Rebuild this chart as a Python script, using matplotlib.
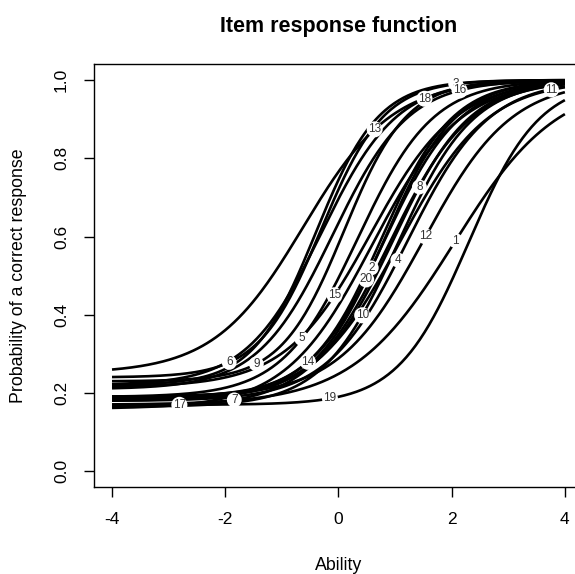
import numpy as np
import matplotlib
matplotlib.use("Agg")
import matplotlib.pyplot as plt

plt.rcParams['font.family'] = ['Liberation Sans', 'DejaVu Sans']

# 3PL item parameters (discrimination, difficulty, guessing)
items = list(range(1, 21))
disc = [1.1, 1.5, 1.8, 1.4, 1.5, 1.8, 1.4, 1.5, 1.8, 1.5,
        1.3, 1.3, 1.27, 1.6, 1.33, 1.5, 1.3, 1.5, 1.6, 1.6]
diff = [2.05, 0.82, -0.4, 1.225, 0.34, -0.3, 0.9, 0.98, 0.1, 1.05,
        1.1, 1.52, -0.62, 0.76, 0.57, -0.1, 0.6, -0.3, 2.3, 0.81]
guess = [0.17, 0.185, 0.22, 0.18, 0.19, 0.24, 0.165, 0.19, 0.23, 0.165,
         0.18, 0.19, 0.25, 0.19, 0.215, 0.21, 0.16, 0.22, 0.17, 0.185]
# ability value where each item number is written on its curve
label_theta = [2.07, 0.58, 2.07, 1.05, -0.65, -1.93, -1.84, 1.43, -1.45, 0.42,
               3.76, 1.54, 0.64, -0.54, -0.07, 2.14, -2.81, 1.52, -0.15, 0.49]

x_ticks = [-4, -2, 0, 2, 4]
y_ticks = [0.0, 0.2, 0.4, 0.6, 0.8, 1.0]


def irf(theta, a, b, c):
    return c + (1 - c) / (1 + np.exp(-a * (theta - b)))


theta = np.linspace(-4, 4, 301)

fig = plt.figure(figsize=(5.75, 5.74), dpi=100)
ax = fig.add_axes([0.1633, 0.1516, 0.8506, 0.7362])

# curves first, then the item numbers on top
for i, it in enumerate(items):
    ax.plot(theta, irf(theta, disc[i], diff[i], guess[i]), color='black',
            lw=1.9, zorder=2, solid_capstyle='butt')
for i, it in enumerate(items):
    t = label_theta[i]
    ax.text(t, irf(t, disc[i], diff[i], guess[i]), str(it), fontsize=8.5,
            color='#333333', ha='center', va='center', zorder=3 + i,
            bbox=dict(boxstyle='circle,pad=0.12', fc='white', ec='none'))

ax.set_xlim(-4.32, 4.32)
ax.set_ylim(-0.04, 1.04)
ax.set_xticks(x_ticks)
ax.set_xticklabels([str(v) for v in x_ticks])
ax.set_yticks(y_ticks)
ax.set_yticklabels([f'{v:.1f}' for v in y_ticks], rotation=90, va='center')
ax.tick_params(length=7, width=1, pad=11, labelsize=12.5)
for s in ax.spines.values():
    s.set_linewidth(1)

fig.text(338.5 / 575, 1 - 32 / 574, 'Item response function', ha='center',
         va='baseline', fontsize=15.5, fontweight='bold')
fig.text(338.5 / 575, 1 - 565 / 574, 'Ability', ha='center', va='center',
         fontsize=12.8)
fig.text(19 / 575, 1 - 275.5 / 574, 'Probability of a correct response',
         rotation=90, ha='center', va='center', fontsize=12.8)

fig.savefig('out.png', dpi=100)
